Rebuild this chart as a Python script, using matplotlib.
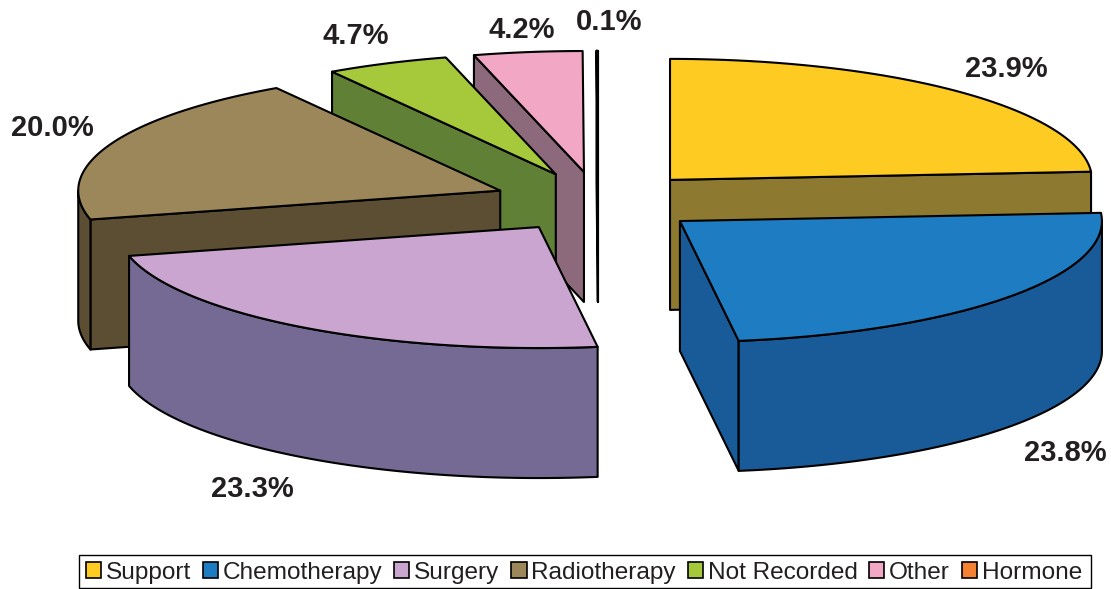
import numpy as np
import matplotlib
matplotlib.use("Agg")
import matplotlib.pyplot as plt
from matplotlib.patches import Patch, Rectangle

plt.rcParams["font.family"] = ["Liberation Sans", "DejaVu Sans"]

# Data
categories = ["Support", "Chemotherapy", "Surgery", "Radiotherapy", "Not Recorded", "Other", "Hormone"]
shares = [23.93, 23.87, 23.4, 19.95, 4.7, 4.15, 0.05]
top_colors = ["#FDCB21", "#1E7DC2", "#C9A5CF", "#9C875A", "#A6C93C", "#F2A7C5", "#F58230"]
side_colors = ["#8D7A30", "#195B99", "#756A94", "#5B4E33", "#608035", "#8D6A7B", "#8A4A1C"]
label_texts = ["23.9%", "23.8%", "23.3%", "20.0%", "4.7%", "4.2%", "0.1%"]

# Pie geometry, in pixels
cx, cy = 598, 202
rx, ry = 422, 121
depth = 130
explode = 0.25
edge = "#000000"
lw = 1.5

# Label centres, in pixels
label_pos = [(1006, 69), (1065, 453), (252, 489), (52, 128), (356, 36), (522, 30), (609, 22)]

# Painter's order, back to front
draw_order = [6, 5, 4, 0, 3, 1, 2]

fig = plt.figure(figsize=(11.11, 5.89), dpi=100)
ax = fig.add_axes([0, 0, 1, 1])
ax.set_xlim(0, 1111)
ax.set_ylim(589, 0)
ax.axis("off")

# Clockwise from 12 o'clock
fractions = np.array(shares) / sum(shares)
ends = 90 - 360 * np.cumsum(fractions)
starts = ends + 360 * fractions


def pt(ox, oy, deg):
    a = np.radians(deg)
    return ox + rx * np.cos(a), oy - ry * np.sin(a)


for i in draw_order:
    a0, a1 = starts[i], ends[i]
    mid = np.radians((a0 + a1) / 2)
    ox = cx + explode * rx * np.cos(mid)
    oy = cy - explode * ry * np.sin(mid)

    # cut faces that look towards the viewer
    for ang, seen in [(a0, np.cos(np.radians(a0)) < 0), (a1, np.cos(np.radians(a1)) > 0)]:
        if seen:
            x, y = pt(ox, oy, ang)
            ax.fill([ox, x, x, ox], [oy, y, y + depth, oy + depth],
                    facecolor=side_colors[i], edgecolor=edge, lw=lw, joinstyle="round")

    # outer wall, only the front half of the rim shows
    for lo, hi in [(-180, 0), (-540, -360)]:
        w0, w1 = max(a1, lo), min(a0, hi)
        if w1 > w0:
            t = np.linspace(w0, w1, 120)
            x, y = pt(ox, oy, t)
            ax.fill(np.r_[x, x[::-1]], np.r_[y, y[::-1] + depth],
                    facecolor=side_colors[i], edgecolor=edge, lw=lw, joinstyle="round")

    # top face
    t = np.linspace(a0, a1, 120)
    x, y = pt(ox, oy, t)
    ax.fill(np.r_[ox, x], np.r_[oy, y], facecolor=top_colors[i], edgecolor=edge, lw=lw,
            joinstyle="round")

for txt, (lx, ly) in zip(label_texts, label_pos):
    ax.text(lx, ly, txt, fontsize=21, fontweight="bold", color="#231F20", ha="center", va="center")

# Legend frame drawn apart so its box can be sized freely
ax.add_patch(Rectangle((78.5, 554.5), 1012.5, 33.5, facecolor="white", edgecolor="black", lw=1.0))
handles = [Patch(facecolor=c, edgecolor="black", lw=1.2) for c in top_colors]
leg = fig.legend(handles, categories, ncol=7, loc="center", bbox_to_anchor=(584 / 1111, 1 - 573 / 589),
                 fontsize=17.6, frameon=False,
                 handlelength=0.62, handleheight=0.62, handletextpad=0.2, columnspacing=0.475,
                 borderpad=0, borderaxespad=0, labelcolor="#231F20")

fig.savefig("out.png", dpi=100)
